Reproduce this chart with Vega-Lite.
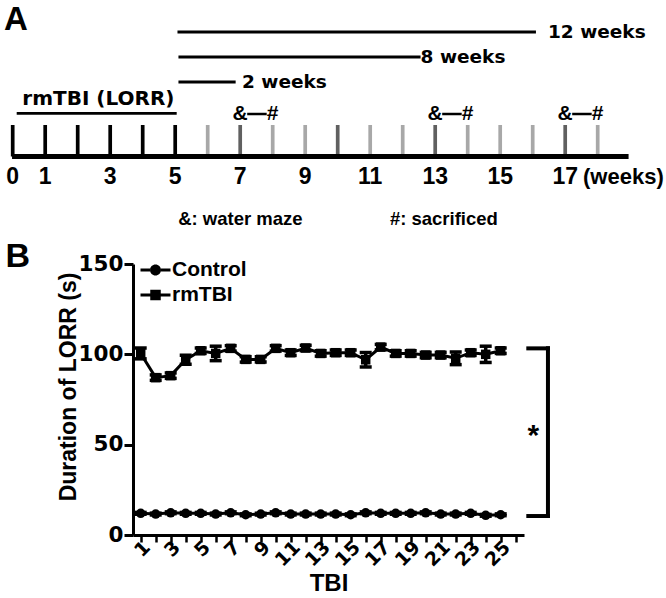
{
  "$schema": "https://vega.github.io/schema/vega-lite/v6.json",
  "width": 391,
  "height": 271,
  "autosize": {"type": "none"},
  "padding": {"left": 133, "top": 264, "right": 142, "bottom": 63},
  "background": "white",
  "config": {
    "font": "Liberation Sans",
    "view": {"stroke": null},
    "axis": {"domainColor": "black", "tickColor": "black", "labelColor": "black", "titleColor": "black", "grid": false, "labelOverlap": false},
    "text": {"color": "black"}
  },
  "datasets": {
    "lorr": [
      {"tbi": 1, "group": "Control", "mean": 12.0, "sem": 0.5},
      {"tbi": 2, "group": "Control", "mean": 11.6, "sem": 0.5},
      {"tbi": 3, "group": "Control", "mean": 12.3, "sem": 0.5},
      {"tbi": 4, "group": "Control", "mean": 12.0, "sem": 0.5},
      {"tbi": 5, "group": "Control", "mean": 12.0, "sem": 0.5},
      {"tbi": 6, "group": "Control", "mean": 11.6, "sem": 0.5},
      {"tbi": 7, "group": "Control", "mean": 12.3, "sem": 0.5},
      {"tbi": 8, "group": "Control", "mean": 11.2, "sem": 0.5},
      {"tbi": 9, "group": "Control", "mean": 11.6, "sem": 0.5},
      {"tbi": 10, "group": "Control", "mean": 12.3, "sem": 0.5},
      {"tbi": 11, "group": "Control", "mean": 11.6, "sem": 0.5},
      {"tbi": 12, "group": "Control", "mean": 11.6, "sem": 0.5},
      {"tbi": 13, "group": "Control", "mean": 11.6, "sem": 0.5},
      {"tbi": 14, "group": "Control", "mean": 11.6, "sem": 0.5},
      {"tbi": 15, "group": "Control", "mean": 11.2, "sem": 0.5},
      {"tbi": 16, "group": "Control", "mean": 12.3, "sem": 0.5},
      {"tbi": 17, "group": "Control", "mean": 12.0, "sem": 0.5},
      {"tbi": 18, "group": "Control", "mean": 12.0, "sem": 0.5},
      {"tbi": 19, "group": "Control", "mean": 12.0, "sem": 0.5},
      {"tbi": 20, "group": "Control", "mean": 12.3, "sem": 0.5},
      {"tbi": 21, "group": "Control", "mean": 11.6, "sem": 0.5},
      {"tbi": 22, "group": "Control", "mean": 11.6, "sem": 0.5},
      {"tbi": 23, "group": "Control", "mean": 12.0, "sem": 0.5},
      {"tbi": 24, "group": "Control", "mean": 10.9, "sem": 0.5},
      {"tbi": 25, "group": "Control", "mean": 11.2, "sem": 0.5},
      {"tbi": 1, "group": "rmTBI", "mean": 100.5, "sem": 3},
      {"tbi": 2, "group": "rmTBI", "mean": 87.1, "sem": 1.5},
      {"tbi": 3, "group": "rmTBI", "mean": 88.2, "sem": 1.5},
      {"tbi": 4, "group": "rmTBI", "mean": 97.0, "sem": 2.5},
      {"tbi": 5, "group": "rmTBI", "mean": 102.0, "sem": 1.5},
      {"tbi": 6, "group": "rmTBI", "mean": 100.5, "sem": 4},
      {"tbi": 7, "group": "rmTBI", "mean": 103.3, "sem": 1.5},
      {"tbi": 8, "group": "rmTBI", "mean": 97.2, "sem": 1.5},
      {"tbi": 9, "group": "rmTBI", "mean": 97.2, "sem": 1.5},
      {"tbi": 10, "group": "rmTBI", "mean": 103.3, "sem": 1.5},
      {"tbi": 11, "group": "rmTBI", "mean": 100.9, "sem": 1.5},
      {"tbi": 12, "group": "rmTBI", "mean": 103.5, "sem": 1.5},
      {"tbi": 13, "group": "rmTBI", "mean": 100.5, "sem": 1.5},
      {"tbi": 14, "group": "rmTBI", "mean": 100.9, "sem": 1.5},
      {"tbi": 15, "group": "rmTBI", "mean": 100.9, "sem": 1.5},
      {"tbi": 16, "group": "rmTBI", "mean": 97.0, "sem": 4},
      {"tbi": 17, "group": "rmTBI", "mean": 104.0, "sem": 1.5},
      {"tbi": 18, "group": "rmTBI", "mean": 100.5, "sem": 1.5},
      {"tbi": 19, "group": "rmTBI", "mean": 100.5, "sem": 1.5},
      {"tbi": 20, "group": "rmTBI", "mean": 99.6, "sem": 1.5},
      {"tbi": 21, "group": "rmTBI", "mean": 99.6, "sem": 1.5},
      {"tbi": 22, "group": "rmTBI", "mean": 97.8, "sem": 3.5},
      {"tbi": 23, "group": "rmTBI", "mean": 100.9, "sem": 1.5},
      {"tbi": 24, "group": "rmTBI", "mean": 100.0, "sem": 4.5},
      {"tbi": 25, "group": "rmTBI", "mean": 102.0, "sem": 1.5}
    ],
    "weeks": [
      {"week": 0, "shade": "rmTBI"},
      {"week": 1, "shade": "rmTBI"},
      {"week": 2, "shade": "rmTBI"},
      {"week": 3, "shade": "rmTBI"},
      {"week": 4, "shade": "rmTBI"},
      {"week": 5, "shade": "rmTBI"},
      {"week": 6, "shade": "light"},
      {"week": 7, "shade": "dark"},
      {"week": 8, "shade": "light"},
      {"week": 9, "shade": "light"},
      {"week": 10, "shade": "dark"},
      {"week": 11, "shade": "light"},
      {"week": 12, "shade": "light"},
      {"week": 13, "shade": "dark"},
      {"week": 14, "shade": "light"},
      {"week": 15, "shade": "light"},
      {"week": 16, "shade": "light"},
      {"week": 17, "shade": "dark"},
      {"week": 18, "shade": "light"}
    ],
    "events": [
      {"maze": 7, "sacrifice": 8},
      {"maze": 13, "sacrifice": 14},
      {"maze": 17, "sacrifice": 18}
    ]
  },
  "resolve": {"scale": {"x": "independent", "y": "independent"}},
  "layer": [
    {
      "data": {"name": "lorr"},
      "resolve": {"scale": {"shape": "independent"}, "axis": {"x": "independent"}},
      "layer": [
        {
          "mark": {"type": "line", "color": "black", "strokeWidth": 3},
          "encoding": {
            "x": {
              "field": "tbi", "type": "quantitative", "title": "TBI",
              "scale": {"domain": [0.487, 26.553], "nice": false, "zero": false},
              "axis": {
                "orient": "bottom",
                "values": [1,3,5,7,9,11,13,15,17,19,21,23,25],
                "labelAngle": -45, "labelAlign": "right", "labelBaseline": "middle",
                "labelFont": "DejaVu Sans", "labelFontSize": 19, "labelFontWeight": "bold",
                "labelOverlap": false, "labelPadding": 2, "labelOffset": 6,
                "tickSize": 7, "tickWidth": 2.5, "domainWidth": 3,
                "titleFont": "Liberation Sans", "titleFontSize": 24, "titleFontWeight": "bold", "titlePadding": 2
              }
            },
            "y": {
              "field": "mean", "type": "quantitative", "title": "Duration of LORR (s)",
              "scale": {"domain": [0, 150], "nice": false},
              "axis": {
                "values": [0, 50, 100, 150],
                "labelFont": "DejaVu Sans", "labelFontSize": 21.5, "labelFontWeight": "bold", "labelPadding": 1,
                "tickSize": 9, "tickWidth": 3, "domainWidth": 3,
                "titleFont": "Liberation Sans", "titleFontSize": 23, "titleFontWeight": "bold",
                "titlePadding": -2, "titleY": 122.5
              }
            },
            "detail": {"field": "group"}
          }
        },
        {
          "mark": {"type": "errorbar", "ticks": true, "size": 12, "thickness": 3.5, "color": "black", "opacity": 1},
          "encoding": {
            "x": {"field": "tbi", "type": "quantitative", "title": "TBI", "axis": null},
            "y": {"field": "mean", "type": "quantitative", "title": "Duration of LORR (s)"},
            "yError": {"field": "sem"}
          }
        },
        {
          "mark": {"type": "point", "filled": true, "size": 90, "color": "black", "opacity": 1},
          "encoding": {
            "x": {"field": "tbi", "type": "quantitative", "title": "TBI", "axis": null},
            "y": {"field": "mean", "type": "quantitative", "title": "Duration of LORR (s)"},
            "shape": {
              "field": "group", "type": "nominal",
              "scale": {"domain": ["Control", "rmTBI"], "range": ["circle", "square"]},
              "legend": null
            }
          }
        },
        {
          "transform": [{"filter": "datum.tbi === 1"}],
          "mark": {"type": "point", "filled": true, "color": "black", "size": 100, "opacity": 0},
          "encoding": {
            "x": {
              "field": "tbi", "type": "quantitative",
              "axis": {
                "orient": "bottom", "offset": 0,
                "values": [2,4,6,8,10,12,14,16,18,20,22,24,26],
                "labels": false, "domain": false, "title": null, "grid": false,
                "tickSize": 7, "tickWidth": 2.5
              }
            },
            "y": {"field": "mean", "type": "quantitative", "title": "Duration of LORR (s)"},
            "shape": {
              "field": "group", "type": "nominal",
              "scale": {
                "domain": ["Control", "rmTBI"],
                "range": [
                  "M-3,-0.3H-1.08V0.3H-3ZM1.08,-0.3H3V0.3H1.08ZM-1.1,0A1.1,1.1,0,1,0,1.1,0A1.1,1.1,0,1,0,-1.1,0Z",
                  "M-3,-0.3H-1.05V0.3H-3ZM1.05,-0.3H3V0.3H1.05ZM-1.05,-1.05H1.05V1.05H-1.05Z"
                ]
              },
              "legend": {
                "title": null, "orient": "none", "legendX": 12, "legendY": -4.5,
                "padding": 0, "rowPadding": 3, "labelOffset": 6,
                "labelFont": "Liberation Sans", "labelFontSize": 21, "labelFontWeight": "bold", "labelColor": "black",
                "symbolSize": 100, "symbolFillColor": "black", "symbolStrokeWidth": 0, "symbolOpacity": 1
              }
            }
          }
        },
        {
          "data": {"values": [{}]},
          "mark": {"type": "rule", "strokeWidth": 4, "strokeCap": "square", "color": "black"},
          "encoding": {
            "x": {"datum": 26.84, "axis": null},
            "x2": {"datum": 28.15},
            "y": {"datum": 103.3}
          }
        },
        {
          "data": {"values": [{}]},
          "mark": {"type": "rule", "strokeWidth": 4, "strokeCap": "square", "color": "black"},
          "encoding": {
            "x": {"datum": 28.15, "axis": null},
            "y": {"datum": 10.5},
            "y2": {"datum": 103.3}
          }
        },
        {
          "data": {"values": [{}]},
          "mark": {"type": "rule", "strokeWidth": 4, "strokeCap": "square", "color": "black"},
          "encoding": {
            "x": {"datum": 26.84, "axis": null},
            "x2": {"datum": 28.15},
            "y": {"datum": 10.5}
          }
        },
        {
          "data": {"values": [{}]},
          "mark": {"type": "text", "text": "*", "font": "Liberation Sans", "fontSize": 30, "fontWeight": "bold", "align": "center", "baseline": "alphabetic"},
          "encoding": {
            "x": {"datum": 27.17, "axis": null},
            "y": {"datum": 49.6}
          }
        },
        {
          "data": {"values": [{}]},
          "mark": {"type": "text", "text": "B", "font": "Liberation Sans", "fontSize": 34, "fontWeight": "bold", "align": "left", "baseline": "alphabetic"},
          "encoding": {
            "x": {"datum": -8.01, "axis": null},
            "y": {"datum": 148.3}
          }
        }
      ]
    },
    {
      "layer": [
        {
          "data": {"name": "weeks"},
          "mark": {"type": "rule", "strokeWidth": 3.7},
          "encoding": {
            "x": {
              "field": "week", "type": "quantitative",
              "scale": {"domain": [3.70154, 15.73231], "nice": false, "zero": false},
              "axis": {
                "orient": "top", "domain": false, "ticks": false, "labels": false, "grid": false,
                "title": "&: water maze\u00a0\u00a0\u00a0\u00a0\u00a0\u00a0\u00a0\u00a0\u00a0\u00a0\u00a0\u00a0\u00a0\u00a0\u00a0\u00a0\u00a0#: sacrificed",
                "titleX": 204.5, "titleY": -46, "titleAlign": "center", "titleBaseline": "middle", "titleAngle": 0,
                "titleFont": "Liberation Sans", "titleFontSize": 18.5, "titleFontWeight": "bold", "titleColor": "black", "titlePadding": 0
              }
            },
            "y": {"datum": 0, "scale": {"domain": [-12.0159, -3.4127], "nice": false, "zero": false}, "axis": null},
            "y2": {"datum": 1},
            "color": {
              "field": "shade", "type": "nominal",
              "scale": {"domain": ["rmTBI", "dark", "light"], "range": ["#000000", "#606060", "#a8a8a8"]},
              "legend": null
            }
          }
        },
        {
          "data": {"values": [{}]},
          "mark": {"type": "rule", "strokeWidth": 5, "color": "black"},
          "encoding": {
            "x": {"datum": -0.02},
            "x2": {"datum": 18.95},
            "y": {"datum": 0, "axis": null}
          }
        },
        {
          "data": {"name": "weeks"},
          "transform": [{"filter": "datum.week === 0 || (datum.week % 2 === 1 && datum.week <= 17)"}],
          "mark": {"type": "text", "font": "Liberation Sans", "fontSize": 23, "fontWeight": "bold", "align": "center", "baseline": "middle"},
          "encoding": {
            "x": {"field": "week", "type": "quantitative"},
            "y": {"datum": -0.635, "axis": null},
            "text": {"field": "week", "type": "quantitative"}
          }
        },
        {
          "data": {"values": [{}]},
          "mark": {"type": "text", "text": "(weeks)", "font": "Liberation Sans", "fontSize": 22, "fontWeight": "bold", "align": "left", "baseline": "middle"},
          "encoding": {
            "x": {"datum": 17.548},
            "y": {"datum": -0.635, "axis": null}
          }
        },
        {
          "data": {"values": [{}]},
          "mark": {"type": "rule", "strokeWidth": 2.8, "color": "black"},
          "encoding": {
            "x": {"datum": 0.123},
            "x2": {"datum": 5.046},
            "y": {"datum": 1.371, "axis": null}
          }
        },
        {
          "data": {"values": [{}]},
          "mark": {"type": "text", "text": "rmTBI (LORR)", "font": "DejaVu Sans", "fontSize": 20, "fontWeight": "bold", "align": "center", "baseline": "middle"},
          "encoding": {
            "x": {"datum": 2.637},
            "y": {"datum": 1.825, "axis": null}
          }
        },
        {
          "data": {"values": [{}]},
          "mark": {"type": "rule", "strokeWidth": 2.8, "color": "black"},
          "encoding": {
            "x": {"datum": 5.1},
            "x2": {"datum": 6.86},
            "y": {"datum": 2.365, "axis": null}
          }
        },
        {
          "data": {"values": [{}]},
          "mark": {"type": "text", "text": "2 weeks", "font": "DejaVu Sans", "fontSize": 18.5, "fontWeight": "bold", "align": "left", "baseline": "middle"},
          "encoding": {
            "x": {"datum": 7.055},
            "y": {"datum": 2.365, "axis": null}
          }
        },
        {
          "data": {"values": [{}]},
          "mark": {"type": "rule", "strokeWidth": 2.8, "color": "black"},
          "encoding": {
            "x": {"datum": 5.1},
            "x2": {"datum": 12.55},
            "y": {"datum": 3.159, "axis": null}
          }
        },
        {
          "data": {"values": [{}]},
          "mark": {"type": "text", "text": "8 weeks", "font": "DejaVu Sans", "fontSize": 18.5, "fontWeight": "bold", "align": "left", "baseline": "middle"},
          "encoding": {
            "x": {"datum": 12.55},
            "y": {"datum": 3.159, "axis": null}
          }
        },
        {
          "data": {"values": [{}]},
          "mark": {"type": "rule", "strokeWidth": 2.8, "color": "black"},
          "encoding": {
            "x": {"datum": 5.07},
            "x2": {"datum": 16.1},
            "y": {"datum": 3.952, "axis": null}
          }
        },
        {
          "data": {"values": [{}]},
          "mark": {"type": "text", "text": "12 weeks", "font": "DejaVu Sans", "fontSize": 18.5, "fontWeight": "bold", "align": "left", "baseline": "middle"},
          "encoding": {
            "x": {"datum": 16.47},
            "y": {"datum": 3.952, "axis": null}
          }
        },
        {
          "data": {"name": "events"},
          "mark": {"type": "rule", "strokeWidth": 2.5, "color": "black", "xOffset": 7, "x2Offset": -6},
          "encoding": {
            "x": {"field": "maze", "type": "quantitative"},
            "x2": {"field": "sacrifice"},
            "y": {"datum": 1.349, "axis": null}
          }
        },
        {
          "data": {"name": "events"},
          "mark": {"type": "text", "text": "&", "font": "Liberation Sans", "fontSize": 21, "fontWeight": "bold", "align": "center", "baseline": "middle"},
          "encoding": {
            "x": {"field": "maze", "type": "quantitative"},
            "y": {"datum": 1.349, "axis": null}
          }
        },
        {
          "data": {"name": "events"},
          "mark": {"type": "text", "text": "#", "font": "Liberation Sans", "fontSize": 21, "fontWeight": "bold", "align": "center", "baseline": "middle"},
          "encoding": {
            "x": {"field": "sacrifice", "type": "quantitative"},
            "y": {"datum": 1.349, "axis": null}
          }
        },
        {
          "data": {"values": [{}]},
          "mark": {"type": "text", "text": "A", "font": "Liberation Sans", "fontSize": 33, "fontWeight": "bold", "align": "left", "baseline": "alphabetic"},
          "encoding": {
            "x": {"datum": -0.268},
            "y": {"datum": 4.016, "axis": null}
          }
        }
      ]
    }
  ]
}
